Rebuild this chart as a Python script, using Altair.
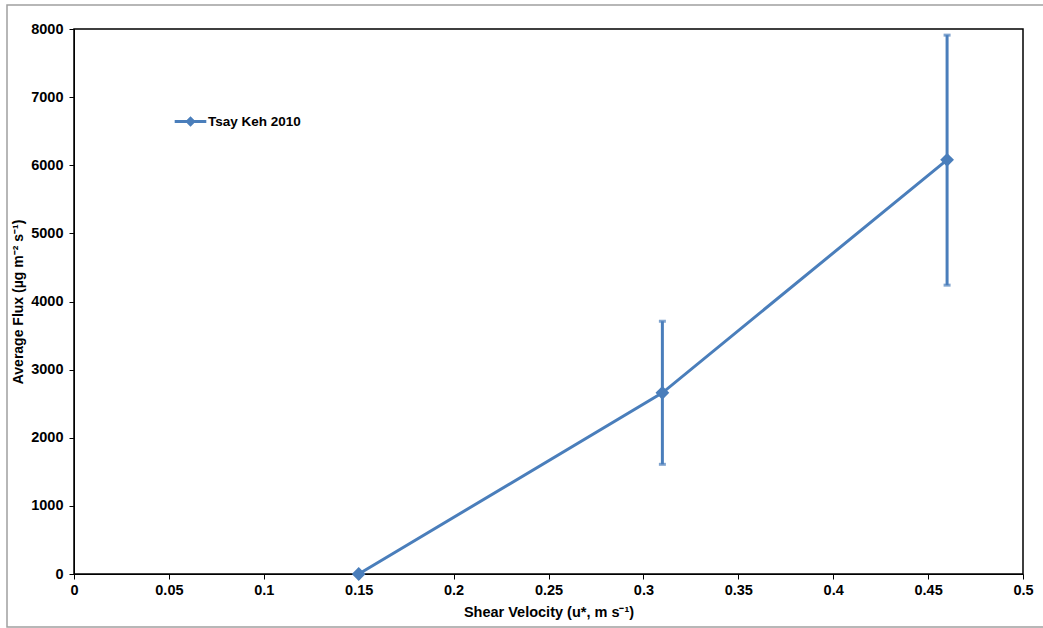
import altair as alt
import pandas as pd

velocity = [0.15, 0.31, 0.46]
flux = [0, 2660, 6080]
flux_low = [None, 1610, 4240]
flux_high = [None, 3710, 7910]
series = ["Tsay Keh 2010"] * 3

x_ticks = [0, 0.05, 0.1, 0.15, 0.2, 0.25, 0.3, 0.35, 0.4, 0.45, 0.5]
y_ticks = [0, 1000, 2000, 3000, 4000, 5000, 6000, 7000, 8000]

df = pd.DataFrame({"v": velocity, "f": flux, "lo": flux_low, "hi": flux_high, "s": series})
err = df.dropna()

BLUE = "#4A7EBB"
FONT = "Liberation Sans"

xs = alt.Scale(domain=[0, 0.5], nice=False, zero=True)
ys = alt.Scale(domain=[0, 8000], nice=False)

xax = alt.Axis(values=x_ticks, format=".2~f", title="Shear Velocity (u*, m s⁻¹)",
               grid=False, tickColor="black", domainColor="black", tickSize=5, labelFlush=False,
               labelFontSize=14.5, labelFontWeight="bold", labelColor="black", labelPadding=4,
               titleFontSize=14.5, titleFontWeight="bold", titleColor="black", titlePadding=9)
yax = alt.Axis(values=y_ticks, format="d", title="Average Flux (µg m⁻² s⁻¹)",
               grid=False, tickColor="black", domainColor="black", tickSize=5, labelFlush=False,
               labelFontSize=14.5, labelFontWeight="bold", labelColor="black", labelPadding=6,
               titleFontSize=14, titleFontWeight="bold", titleColor="black", titlePadding=5)

legend_path = "M-1,0L1,0M-0.2,0L0,-0.2L0.2,0L0,0.2Z"

base = alt.Chart(df)

line = base.mark_line(strokeWidth=3).encode(
    x=alt.X("v:Q", scale=xs, axis=xax),
    y=alt.Y("f:Q", scale=ys, axis=yax),
    color=alt.Color("s:N", scale=alt.Scale(range=[BLUE]),
                    legend=alt.Legend(title=None, orient="none", legendX=99, legendY=75,
                                      symbolType=legend_path, symbolSize=1000,
                                      symbolStrokeWidth=3, symbolFillColor=BLUE,
                                      symbolStrokeColor=BLUE,
                                      labelFontSize=13.5, labelFontWeight="bold",
                                      labelColor="black", labelFont=FONT, labelOffset=0)),
)

points = base.mark_point(shape="diamond", filled=True, size=190, opacity=1, color=BLUE).encode(
    x=alt.X("v:Q", scale=xs),
    y=alt.Y("f:Q", scale=ys),
)

rules = alt.Chart(err).mark_rule(strokeWidth=3, color=BLUE).encode(
    x=alt.X("v:Q", scale=xs),
    y=alt.Y("lo:Q", scale=ys),
    y2="hi:Q",
)

caps_hi = alt.Chart(err).mark_tick(orient="horizontal", size=7, thickness=3, color=BLUE).encode(
    x=alt.X("v:Q", scale=xs),
    y=alt.Y("hi:Q", scale=ys),
)
caps_lo = alt.Chart(err).mark_tick(orient="horizontal", size=7, thickness=3, color=BLUE).encode(
    x=alt.X("v:Q", scale=xs),
    y=alt.Y("lo:Q", scale=ys),
)

border = alt.Chart(pd.DataFrame({"a": [0]})).mark_rect(
    fill=None, stroke="#A0A0A0", strokeWidth=1.5, clip=False
).encode(
    x=alt.value(-67), x2=alt.value(980), y=alt.value(-24), y2=alt.value(598)
)

chart = alt.layer(border, rules, caps_hi, caps_lo, line, points).properties(
    width=949, height=545,
    autosize=alt.AutoSizeParams(type="none"),
    padding={"left": 74, "top": 29, "right": 20, "bottom": 54},
    view=alt.ViewBackground(stroke="black", strokeWidth=1.5),
).configure_axis(
    labelFont=FONT, titleFont=FONT, domainWidth=1.5, tickWidth=1.5
).configure(background="white")

chart.save("out.html", embed_options={"renderer": "svg", "actions": False})
